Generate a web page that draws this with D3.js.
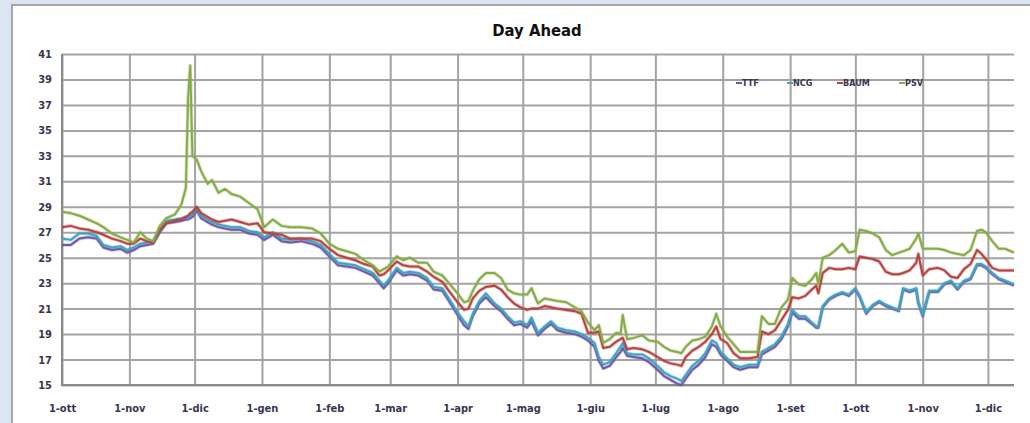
<!DOCTYPE html>
<html>
<head>
<meta charset="utf-8">
<script src="https://cdn.jsdelivr.net/npm/d3@7/dist/d3.min.js"></script>
<style>
  html, body { margin: 0; padding: 0; background: #dce6f2; }
  svg { display: block; }
  text { font-family: "Liberation Sans Narrow", "Arial Narrow", "DejaVu Sans Condensed", sans-serif; }
</style>
</head>
<body>
<svg id="chart" width="1030" height="423"></svg>
<script>
// ---------------- DATA ----------------
const title = "Day Ahead";
const seriesNames = ["TTF", "NCG", "BAUM", "PSV"];
const yTicks = [15, 17, 19, 21, 23, 25, 27, 29, 31, 33, 35, 37, 39, 41];
const monthTicks = ["2013-10-01","2013-11-01","2013-12-01","2014-01-01","2014-02-01","2014-03-01","2014-04-01",
  "2014-05-01","2014-06-01","2014-07-01","2014-08-01","2014-09-01","2014-10-01","2014-11-01","2014-12-01"];
const monthLabels = ["1-ott","1-nov","1-dic","1-gen","1-feb","1-mar","1-apr","1-mag","1-giu","1-lug","1-ago","1-set","1-ott","1-nov","1-dic"];

const dates = [
"2013-10-01","2013-10-05","2013-10-09","2013-10-13","2013-10-17","2013-10-20","2013-10-24","2013-10-28","2013-10-31",
"2013-11-03","2013-11-06","2013-11-09","2013-11-12","2013-11-15","2013-11-18","2013-11-22","2013-11-25","2013-11-27",
"2013-11-28","2013-11-29","2013-11-30","2013-12-02","2013-12-04","2013-12-07","2013-12-09","2013-12-12","2013-12-15",
"2013-12-18","2013-12-22","2013-12-26","2013-12-30","2014-01-02","2014-01-06","2014-01-10","2014-01-14","2014-01-19",
"2014-01-24","2014-01-28","2014-02-01","2014-02-05","2014-02-09","2014-02-13","2014-02-17","2014-02-21","2014-02-24",
"2014-02-26","2014-02-28","2014-03-04","2014-03-07","2014-03-10","2014-03-14","2014-03-18","2014-03-21","2014-03-25",
"2014-03-28","2014-04-01","2014-04-04","2014-04-06","2014-04-08","2014-04-11","2014-04-14","2014-04-18","2014-04-21",
"2014-04-24","2014-04-27","2014-04-30","2014-05-03","2014-05-05","2014-05-08","2014-05-11","2014-05-14","2014-05-17",
"2014-05-21","2014-05-25","2014-05-28","2014-05-31","2014-06-03","2014-06-05","2014-06-07","2014-06-10","2014-06-13",
"2014-06-15","2014-06-16","2014-06-18","2014-06-21","2014-06-25","2014-06-28","2014-07-02","2014-07-05","2014-07-08",
"2014-07-11","2014-07-13","2014-07-15","2014-07-18","2014-07-21","2014-07-24","2014-07-27","2014-07-29","2014-07-31",
"2014-08-03","2014-08-06","2014-08-09","2014-08-13","2014-08-17","2014-08-19","2014-08-22","2014-08-25","2014-08-28",
"2014-08-31","2014-09-02","2014-09-05","2014-09-08","2014-09-11","2014-09-13","2014-09-14","2014-09-16","2014-09-19",
"2014-09-22","2014-09-25","2014-09-28","2014-10-01","2014-10-03","2014-10-06","2014-10-09","2014-10-12","2014-10-15",
"2014-10-18","2014-10-21","2014-10-23","2014-10-26","2014-10-29","2014-10-30","2014-11-01","2014-11-04","2014-11-08",
"2014-11-11","2014-11-14","2014-11-17","2014-11-20","2014-11-23","2014-11-26","2014-11-28","2014-11-30","2014-12-03",
"2014-12-06","2014-12-09","2014-12-13"];

const psv = [
28.6,28.5,28.3,28.0,27.7,27.4,26.9,26.6,26.4,
26.2,27.0,26.5,26.3,27.5,28.1,28.4,29.2,30.5,
37.5,40.1,33.0,32.7,31.8,30.8,31.1,30.1,30.4,
30.0,29.8,29.3,28.8,27.4,28.0,27.5,27.4,27.4,
27.3,26.9,26.1,25.7,25.5,25.3,24.8,24.4,23.9,
24.1,24.3,25.1,24.8,25.0,24.6,24.6,23.9,23.6,
23.0,22.2,21.5,21.6,22.4,23.3,23.8,23.8,23.4,
22.5,22.2,22.1,22.1,22.6,21.4,21.8,21.7,21.6,
21.5,21.1,20.8,19.9,19.3,19.7,18.3,18.6,19.1,
19.0,20.5,18.6,18.7,18.9,18.5,18.4,18.0,17.7,
17.6,17.5,18.0,18.5,18.6,18.8,19.6,20.6,19.6,
18.8,18.2,17.6,17.6,17.6,20.4,19.8,19.8,21.1,
21.7,23.4,22.9,22.8,23.3,23.8,22.9,25.0,25.2,
25.6,26.1,25.4,25.5,27.2,27.1,26.9,26.6,25.6,
25.2,25.4,25.5,25.7,26.5,26.9,25.7,25.7,25.7,
25.6,25.4,25.3,25.2,25.6,27.1,27.2,27.0,26.3,
25.7,25.7,25.4];

const baum = [
27.4,27.5,27.3,27.2,27.0,26.8,26.5,26.3,26.1,
26.1,26.5,26.3,26.2,27.2,27.7,27.9,28.0,28.2,
28.3,28.5,28.6,29.0,28.5,28.2,28.0,27.8,27.9,
28.0,27.8,27.6,27.7,27.0,26.9,26.8,26.5,26.5,
26.5,26.3,25.7,25.2,25.0,24.8,24.5,24.3,23.6,
23.7,24.0,24.7,24.4,24.3,24.3,23.9,23.5,23.1,
22.4,21.5,20.9,21.0,21.8,22.4,22.7,22.8,22.5,
21.9,21.4,21.1,20.9,21.0,21.0,21.2,21.1,21.0,
20.9,20.8,20.6,19.1,19.1,19.2,17.9,18.0,18.4,
18.6,18.7,17.8,17.9,17.8,17.6,17.2,16.9,16.7,
16.6,16.5,17.2,17.7,18.0,18.4,19.0,19.6,18.6,
18.3,17.5,17.1,17.1,17.2,19.2,19.0,19.3,20.1,
20.9,21.9,21.8,22.0,22.5,22.8,22.2,23.8,24.2,
24.1,24.1,24.2,24.1,25.1,25.0,24.9,24.7,23.9,
23.7,23.7,23.8,24.0,24.6,25.3,23.6,24.1,24.2,
24.0,23.5,23.4,24.1,24.5,25.6,25.3,24.9,24.2,
24.0,24.0,24.0];

const ncg = [
26.5,26.4,26.9,26.9,26.7,26.0,25.8,25.9,25.6,
25.8,26.1,26.2,26.3,27.2,27.9,28.0,28.1,28.2,
28.1,28.3,28.4,28.9,28.3,28.0,27.8,27.6,27.5,
27.4,27.4,27.1,27.0,26.6,27.0,26.5,26.4,26.5,
26.3,26.0,25.3,24.6,24.5,24.4,24.1,23.8,23.2,
22.8,23.2,24.2,23.8,23.9,23.8,23.4,22.7,22.6,
21.8,20.7,20.0,19.6,20.6,21.6,22.2,21.4,21.0,
20.4,19.9,20.0,19.7,20.3,19.1,19.6,20.0,19.5,
19.3,19.2,19.0,18.7,18.3,17.2,16.6,16.8,17.5,
18.0,18.3,17.5,17.4,17.4,17.1,16.5,16.0,15.7,
15.5,15.3,15.8,16.5,16.9,17.5,18.5,18.3,17.6,
17.1,16.6,16.4,16.6,16.6,17.6,17.9,18.2,18.8,
19.8,20.9,20.4,20.4,19.9,19.6,19.6,21.2,21.8,
22.1,22.3,22.1,22.6,22.0,20.7,21.3,21.6,21.3,
21.1,20.9,22.6,22.4,22.6,21.5,20.5,22.4,22.4,
23.0,23.2,22.6,23.2,23.4,24.5,24.5,24.3,23.8,
23.4,23.2,22.9];

const ttf = [
26.0,26.0,26.5,26.6,26.5,25.8,25.6,25.7,25.4,
25.6,25.9,26.0,26.1,27.0,27.7,27.8,27.9,28.0,
28.0,28.1,28.2,28.7,28.1,27.8,27.6,27.4,27.3,
27.2,27.2,26.9,26.8,26.4,26.8,26.3,26.2,26.3,
26.1,25.8,25.1,24.4,24.3,24.2,23.9,23.6,23.0,
22.6,23.0,24.0,23.6,23.7,23.6,23.2,22.5,22.4,
21.6,20.5,19.7,19.4,20.4,21.4,21.9,21.2,20.8,
20.2,19.7,19.8,19.5,20.0,18.9,19.4,19.8,19.3,
19.1,19.0,18.8,18.5,18.0,16.9,16.3,16.5,17.2,
17.6,17.9,17.3,17.2,17.1,16.8,16.2,15.7,15.4,
15.1,15.0,15.5,16.2,16.6,17.2,18.2,18.0,17.4,
16.9,16.4,16.2,16.4,16.4,17.4,17.7,18.0,18.6,
19.6,20.7,20.2,20.2,19.8,19.5,19.5,21.1,21.7,
22.0,22.2,22.0,22.5,21.9,20.6,21.2,21.5,21.2,
21.0,20.8,22.5,22.3,22.5,21.4,20.4,22.3,22.3,
22.9,23.1,22.5,23.1,23.3,24.4,24.4,24.2,23.7,
23.3,23.1,22.8];

const seriesValues = [ttf, ncg, baum, psv];
const seriesColors = ["#7457a3", "#3fa3c2", "#b9433f", "#86ad45"];

// ---------------- DRAW ----------------
const parse = d3.timeParse("%Y-%m-%d");
const svg = d3.select("#chart");
const fontStack = "'Liberation Sans Narrow','Arial Narrow','DejaVu Sans Condensed',sans-serif";

// chart frame
svg.append("rect").attr("x", 12).attr("y", 5).attr("width", 1030).attr("height", 430)
  .attr("fill", "#ffffff").attr("stroke", "#8e8e8e").attr("stroke-width", 1.5);

const x = d3.scaleTime()
  .domain([parse("2013-10-01"), parse("2014-12-13")])
  .range([62, 1014]);
const y = d3.scaleLinear().domain([15, 41]).range([385, 54]);

const gridColor = "#a3a3a3";

// horizontal gridlines
svg.append("g").attr("transform", "translate(62,0)")
  .call(d3.axisLeft(y).tickValues(yTicks).tickSize(-(1014 - 62)).tickFormat(""))
  .call(g => g.select(".domain").remove())
  .call(g => g.selectAll(".tick line").attr("stroke", gridColor).attr("stroke-width", 2));

// vertical gridlines
const monthDates = monthTicks.map(parse);
svg.append("g").attr("transform", "translate(0,385)")
  .call(d3.axisBottom(x).tickValues(monthDates).tickSize(-(385 - 54)).tickFormat(""))
  .call(g => g.select(".domain").remove())
  .call(g => g.selectAll(".tick line").attr("stroke", gridColor).attr("stroke-width", 2));

// axis lines
svg.append("line").attr("x1", x.range()[0]).attr("x2", x.range()[0]).attr("y1", 54).attr("y2", 386)
  .attr("stroke", "#8a8a8a").attr("stroke-width", 2);
svg.append("line").attr("x1", 61).attr("x2", 1014).attr("y1", y(15)).attr("y2", y(15))
  .attr("stroke", "#8a8a8a").attr("stroke-width", 2);

// y labels
svg.append("g").attr("transform", "translate(52,0)")
  .call(d3.axisLeft(y).tickValues(yTicks).tickSize(0).tickPadding(0).tickFormat(d3.format("d")))
  .call(g => g.select(".domain").remove())
  .call(g => g.selectAll("text").attr("font-size", 11).attr("font-weight", "bold")
      .attr("fill", "#3a3550").style("font-family", fontStack));

// x labels
svg.append("g").attr("transform", "translate(0,404)")
  .call(d3.axisBottom(x).tickValues(monthDates).tickSize(0).tickPadding(0)
     .tickFormat((d, i) => monthLabels[i]))
  .call(g => g.select(".domain").remove())
  .call(g => g.selectAll("text").attr("font-size", 11).attr("font-weight", "bold")
      .attr("fill", "#3a3550").style("font-family", fontStack));

// lines
const line = d3.line().x(d => x(d.date)).y(d => y(d.v));
seriesNames.forEach((name, si) => {
  const data = dates.map((d, i) => ({ date: parse(d), v: seriesValues[si][i] }));
  svg.append("path").datum(data)
    .attr("fill", "none").attr("stroke", seriesColors[si]).attr("stroke-opacity", 0.35)
    .attr("stroke-width", 3.6).attr("stroke-linejoin", "round").attr("d", line);
  svg.append("path").datum(data)
    .attr("fill", "none").attr("stroke", seriesColors[si])
    .attr("stroke-width", 2).attr("stroke-linejoin", "round").attr("d", line);
});

// title
svg.append("text").attr("x", 537).attr("y", 36).attr("text-anchor", "middle")
  .attr("font-size", 16.5).attr("font-weight", "bold").attr("fill", "#111")
  .text(title);

// legend
const legendX = [736, 787, 837, 899];
seriesNames.forEach((name, i) => {
  const g = svg.append("g").attr("transform", `translate(${legendX[i]},83)`);
  g.append("line").attr("x1", 0).attr("x2", 6).attr("y1", 0).attr("y2", 0)
    .attr("stroke", seriesColors[i]).attr("stroke-width", 2);
  g.append("text").attr("x", 6).attr("y", 3).attr("font-size", 9).attr("font-weight", "bold")
    .attr("fill", "#3a3550").text(name);
});
</script>
</body>
</html>
